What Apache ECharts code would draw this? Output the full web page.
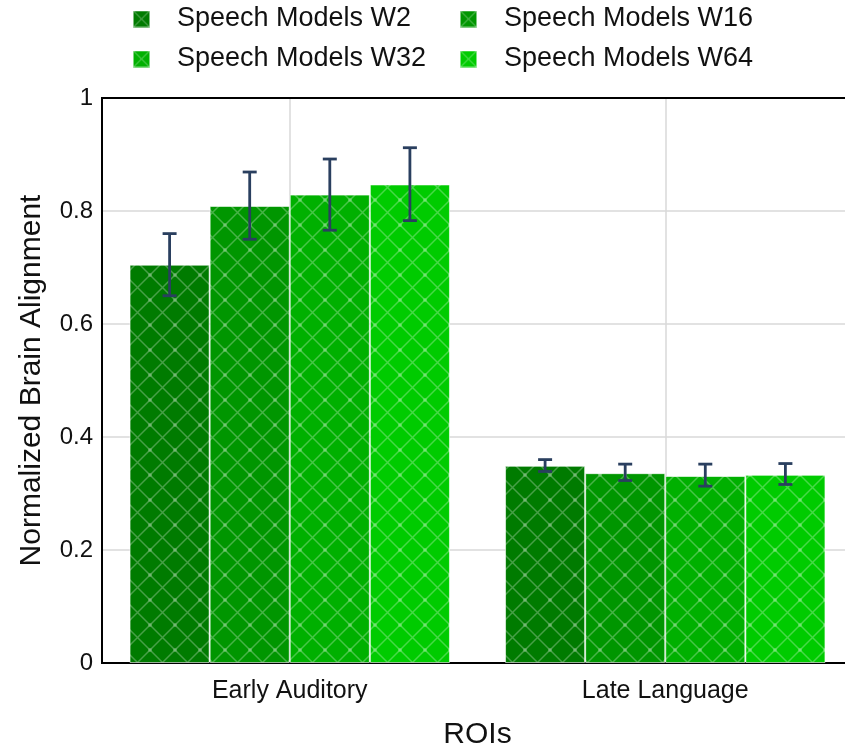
<!DOCTYPE html>
<html>
<head>
<meta charset="utf-8">
<script src="https://cdn.jsdelivr.net/npm/echarts@6/dist/echarts.min.js"></script>
<style>html,body{margin:0;padding:0;background:#fff;}#chart{width:845px;height:751px;}</style>
</head>
<body>
<div id="chart"></div>
<script>
const categories = ['Early Auditory', 'Late Language'];
const seriesNames = ['Speech Models W2', 'Speech Models W16', 'Speech Models W32', 'Speech Models W64'];
const valuesW2 = [0.705, 0.349];
const valuesW16 = [0.809, 0.336];
const valuesW32 = [0.829, 0.331];
const valuesW64 = [0.847, 0.333];
const lowW2 = [0.650, 0.339];
const highW2 = [0.760, 0.360];
const lowW16 = [0.750, 0.323];
const highW16 = [0.869, 0.352];
const lowW32 = [0.766, 0.313];
const highW32 = [0.892, 0.352];
const lowW64 = [0.783, 0.316];
const highW64 = [0.912, 0.353];
const yTicks = [0, 0.2, 0.4, 0.6, 0.8, 1];

const allValues = [valuesW2, valuesW16, valuesW32, valuesW64];
const allLow = [lowW2, lowW16, lowW32, lowW64];
const allHigh = [highW2, highW16, highW32, highW64];
const colors = ['#007b00', '#009600', '#00b000', '#00cb00'];
const FONT = "'Liberation Sans', Arial, sans-serif";
const CAT_GAP = 0.1467;

function makePattern(bg, s) {
  const c = document.createElement('canvas');
  c.width = s; c.height = s;
  const g = c.getContext('2d');
  g.fillStyle = bg; g.fillRect(0, 0, s, s);
  g.strokeStyle = 'rgba(255,255,255,0.28)';
  g.lineWidth = 1.5;
  g.beginPath();
  g.moveTo(0, 0); g.lineTo(s, s);
  g.moveTo(s, 0); g.lineTo(0, s);
  g.stroke();
  g.fillStyle = 'rgba(255,255,255,0.25)';
  [[0,0],[s,0],[0,s],[s,s]].forEach(p => { g.beginPath(); g.arc(p[0], p[1], 2, 0, Math.PI*2); g.fill(); });
  return c;
}
function makeIcon(bg) {
  const s = 17;
  const c = document.createElement('canvas');
  c.width = s; c.height = s;
  const g = c.getContext('2d');
  g.fillStyle = bg; g.fillRect(0, 0, s, s);
  g.strokeStyle = 'rgba(255,255,255,0.3)';
  g.lineWidth = 1.2;
  g.beginPath();
  g.moveTo(0, 0); g.lineTo(s, s);
  g.moveTo(s, 0); g.lineTo(0, s);
  g.stroke();
  g.strokeStyle = 'rgba(255,255,255,0.5)';
  g.lineWidth = 1;
  g.strokeRect(0.5, 0.5, s - 1, s - 1);
  return c.toDataURL();
}

const series = [];
seriesNames.forEach((name, i) => {
  series.push({
    name: name,
    type: 'bar',
    data: allValues[i],
    barGap: '0%',
    barCategoryGap: (CAT_GAP * 100) + '%',
    itemStyle: {
      color: { image: makePattern(colors[i], 25), repeat: 'repeat' },
      borderColor: 'rgba(255,255,255,0.6)',
      borderWidth: 1
    },
    z: 2
  });
});
seriesNames.forEach((name, i) => {
  series.push({
    type: 'custom',
    z: 5,
    silent: true,
    data: categories.map((c, k) => [k, allLow[i][k], allHigh[i][k]]),
    encode: { x: 0, y: [1, 2] },
    renderItem: function (params, api) {
      const top = api.coord([api.value(0), api.value(2)]);
      const bot = api.coord([api.value(0), api.value(1)]);
      const band = api.size([1, 0])[0];
      const bw = band * (1 - CAT_GAP) / 4;
      const x = top[0] + (i - 1.5) * bw;
      const half = 7;
      const st = { stroke: '#2a3f5f', lineWidth: 2.8 };
      return {
        type: 'group',
        children: [
          { type: 'line', shape: { x1: x, y1: top[1], x2: x, y2: bot[1] }, style: st },
          { type: 'line', shape: { x1: x - half, y1: top[1], x2: x + half, y2: top[1] }, style: st },
          { type: 'line', shape: { x1: x - half, y1: bot[1], x2: x + half, y2: bot[1] }, style: st }
        ]
      };
    }
  });
});

const legendCommon = {
  orient: 'vertical',
  top: 4,
  padding: 0,
  itemWidth: 17,
  itemHeight: 17,
  itemGap: 10,
  textStyle: { fontFamily: FONT, fontSize: 27, color: '#111', lineHeight: 30, padding: [0, 0, 0, 22] }
};
function legendData(idxs) {
  return idxs.map(k => ({ name: seriesNames[k], icon: 'image://' + makeIcon(colors[k]) }));
}

const chart = echarts.init(document.getElementById('chart'));
chart.setOption({
  animation: false,
  backgroundColor: '#fff',
  legend: [
    Object.assign({}, legendCommon, { left: 133, data: legendData([0, 2]) }),
    Object.assign({}, legendCommon, { left: 460, data: legendData([1, 3]) })
  ],
  grid: { left: 102, top: 98, bottom: 88, right: -8, show: true, borderColor: '#000', borderWidth: 2, containLabel: false, outerBoundsMode: 'none' },
  xAxis: [
    {
      type: 'category',
      data: categories,
      axisLine: { show: true, lineStyle: { color: '#000', width: 2 } },
      axisTick: { show: false },
      axisLabel: { fontFamily: FONT, fontSize: 25, color: '#111', margin: 16 },
      name: 'ROIs',
      nameLocation: 'middle',
      nameGap: 57,
      nameTextStyle: { fontFamily: FONT, fontSize: 30, color: '#111' },
      splitLine: { show: false }
    },
    {
      type: 'category',
      data: ['', 'a', '', 'b', ''],
      boundaryGap: false,
      position: 'bottom',
      axisLine: { show: false },
      axisTick: { show: false },
      axisLabel: { show: false },
      splitLine: { show: true, interval: function (idx) { return idx === 1 || idx === 3; }, lineStyle: { color: '#d9d9d9', width: 1.5 } }
    },
    {
      type: 'category',
      data: categories,
      position: 'top',
      axisLine: { show: true, onZero: false, lineStyle: { color: '#000', width: 2 } },
      axisTick: { show: false },
      axisLabel: { show: false },
      splitLine: { show: false }
    }
  ],
  yAxis: {
    type: 'value',
    min: yTicks[0],
    max: yTicks[yTicks.length - 1],
    interval: 0.2,
    axisLine: { show: true, lineStyle: { color: '#000', width: 2 } },
    axisTick: { show: false },
    axisLabel: { fontFamily: FONT, fontSize: 24, color: '#111', margin: 9 },
    splitLine: { show: true, lineStyle: { color: '#d9d9d9', width: 1.5 } },
    name: 'Normalized Brain Alignment',
    nameLocation: 'middle',
    nameGap: 55,
    nameTextStyle: { fontFamily: FONT, fontSize: 30, color: '#111' }
  },
  series: series
});
</script>
</body>
</html>
